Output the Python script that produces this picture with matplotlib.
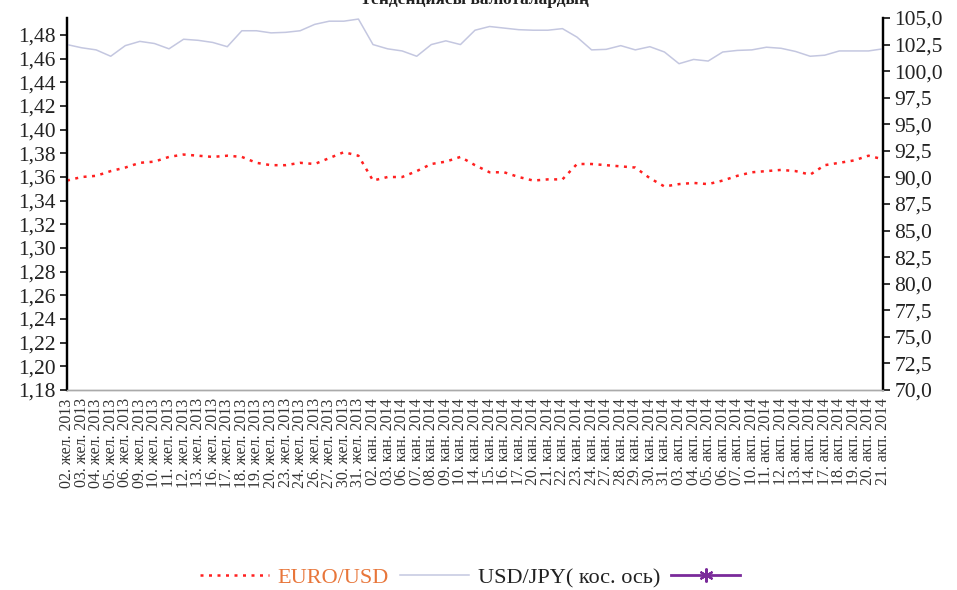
import matplotlib
matplotlib.use("Agg")
import matplotlib.pyplot as plt
from matplotlib.lines import Line2D
from matplotlib.ticker import FixedLocator, FuncFormatter

plt.rcParams['font.family'] = ['Liberation Serif', 'DejaVu Serif']

dates = [
    "02. жел. 2013", "03. жел. 2013", "04. жел. 2013", "05. жел. 2013", "06. жел. 2013",
    "09. жел. 2013", "10. жел. 2013", "11. жел. 2013", "12. жел. 2013", "13. жел. 2013",
    "16. жел. 2013", "17. жел. 2013", "18. жел. 2013", "19. жел. 2013", "20. жел. 2013",
    "23. жел. 2013", "24. жел. 2013", "26. жел. 2013", "27. жел. 2013", "30. жел. 2013",
    "31. жел. 2013",
    "02. кан. 2014", "03. кан. 2014", "06. кан. 2014", "07. кан. 2014", "08. кан. 2014",
    "09. кан. 2014", "10. кан. 2014", "14. кан. 2014", "15. кан. 2014", "16. кан. 2014",
    "17. кан. 2014", "20. кан. 2014", "21. кан. 2014", "22. кан. 2014", "23. кан. 2014",
    "24. кан. 2014", "27. кан. 2014", "28. кан. 2014", "29. кан. 2014", "30. кан. 2014",
    "31. кан. 2014",
    "03. акп. 2014", "04. акп. 2014", "05. акп. 2014", "06. акп. 2014", "07. акп. 2014",
    "10. акп. 2014", "11. акп. 2014", "12. акп. 2014", "13. акп. 2014", "14. акп. 2014",
    "17. акп. 2014", "18. акп. 2014", "19. акп. 2014", "20. акп. 2014", "21. акп. 2014",
]

euro_usd = [
    1.357, 1.360, 1.361, 1.365, 1.368, 1.372, 1.373, 1.377, 1.379, 1.378,
    1.377, 1.378, 1.377, 1.372, 1.370, 1.370, 1.372, 1.371, 1.376, 1.381,
    1.378, 1.357, 1.360, 1.360, 1.365, 1.371, 1.373, 1.377, 1.370, 1.364,
    1.364, 1.360, 1.357, 1.358, 1.358, 1.371, 1.371, 1.370, 1.369, 1.368,
    1.359, 1.352, 1.354, 1.355, 1.354, 1.357, 1.361, 1.364, 1.365, 1.366,
    1.365, 1.362, 1.370, 1.372, 1.374, 1.378, 1.375,
]

usd_jpy = [
    102.5, 102.2, 102.0, 101.4, 102.4, 102.8, 102.6, 102.1, 103.0, 102.9,
    102.7, 102.3, 103.8, 103.8, 103.6, 103.65, 103.8, 104.4, 104.7, 104.7,
    104.9, 102.5, 102.1, 101.9, 101.4, 102.5, 102.85, 102.5, 103.85, 104.2,
    104.05, 103.9, 103.85, 103.85, 104.0, 103.2, 102.0, 102.05, 102.4, 102.0,
    102.3, 101.8, 100.7, 101.1, 100.95, 101.8, 101.95, 102.0, 102.25, 102.15,
    101.85, 101.4, 101.5, 101.9, 101.9, 101.9, 102.1,
]

left_ticks = [1.18, 1.20, 1.22, 1.24, 1.26, 1.28, 1.30, 1.32, 1.34, 1.36, 1.38, 1.40, 1.42, 1.44, 1.46, 1.48]
right_ticks = [70.0, 72.5, 75.0, 77.5, 80.0, 82.5, 85.0, 87.5, 90.0, 92.5, 95.0, 97.5, 100.0, 102.5, 105.0]

title = "Тенденциясы валюталардың"
legend_labels = ["EURO/USD", "USD/JPY( кос. ось)", ""]

fig = plt.figure(figsize=(9.57, 5.90), dpi=100)
ax = fig.add_axes([0.070, 0.339, 0.8527, 0.6305])
ax2 = ax.twinx()

x = list(range(len(dates)))
red = '#ff2020'
blue = '#c4c7e0'
purple = '#7a2a9a'

ax.plot(x, euro_usd, color=red, linestyle=(0, (1.2, 2.2)), linewidth=1.8, zorder=3)
ax2.plot(x, usd_jpy, color=blue, linewidth=1.1, zorder=2)

ax.set_xlim(0, len(dates) - 1)
ax.set_ylim(1.18, 1.4944)
ax2.set_ylim(70.0, 105.0)

ax.yaxis.set_major_locator(FixedLocator(left_ticks))
ax.yaxis.set_major_formatter(FuncFormatter(lambda v, p: f"{v:.2f}".replace('.', ',')))
ax2.yaxis.set_major_locator(FixedLocator(right_ticks))
ax2.yaxis.set_major_formatter(FuncFormatter(lambda v, p: f"{v:.1f}".replace('.', ',')))

ax.set_xticks(x)
ax.set_xticklabels(dates, rotation=90, fontsize=11.5, color='#333333')
ax.tick_params(axis='x', length=0, pad=6)
ax.tick_params(axis='y', labelsize=15.5, length=5, width=1.3, direction='out', colors='#222222', pad=3)
ax2.tick_params(axis='y', labelsize=15.5, length=5, width=1.3, direction='out', colors='#222222', pad=3)

for a in (ax, ax2):
    a.spines['top'].set_visible(False)
    a.spines['left'].set_linewidth(1.6)
    a.spines['right'].set_linewidth(1.6)
    a.spines['bottom'].set_color('#aaaaaa')
    a.spines['bottom'].set_linewidth(1.0)
    a.patch.set_visible(False)

fig.text(0.496, 1.0, title, ha='center', va='center', fontsize=12.5, fontweight='bold', color='#222222')

handles = [
    Line2D([], [], color=red, linestyle=(0, (1.2, 2.2)), linewidth=1.8),
    Line2D([], [], color=blue, linewidth=1.1),
    Line2D([], [], color=purple, linewidth=2.0, marker=(6, 2, 0), markersize=10, markeredgewidth=1.5),
]
leg = fig.legend(handles, legend_labels, loc='center', bbox_to_anchor=(0.496, 1 - 578 / 590),
                 ncol=3, frameon=False, fontsize=16, handlelength=3.1, columnspacing=0.5,
                 handletextpad=0.4)
leg.get_texts()[0].set_color('#e8763a')
leg.get_texts()[1].set_color('#222222')

fig.savefig("out.png", dpi=100)
